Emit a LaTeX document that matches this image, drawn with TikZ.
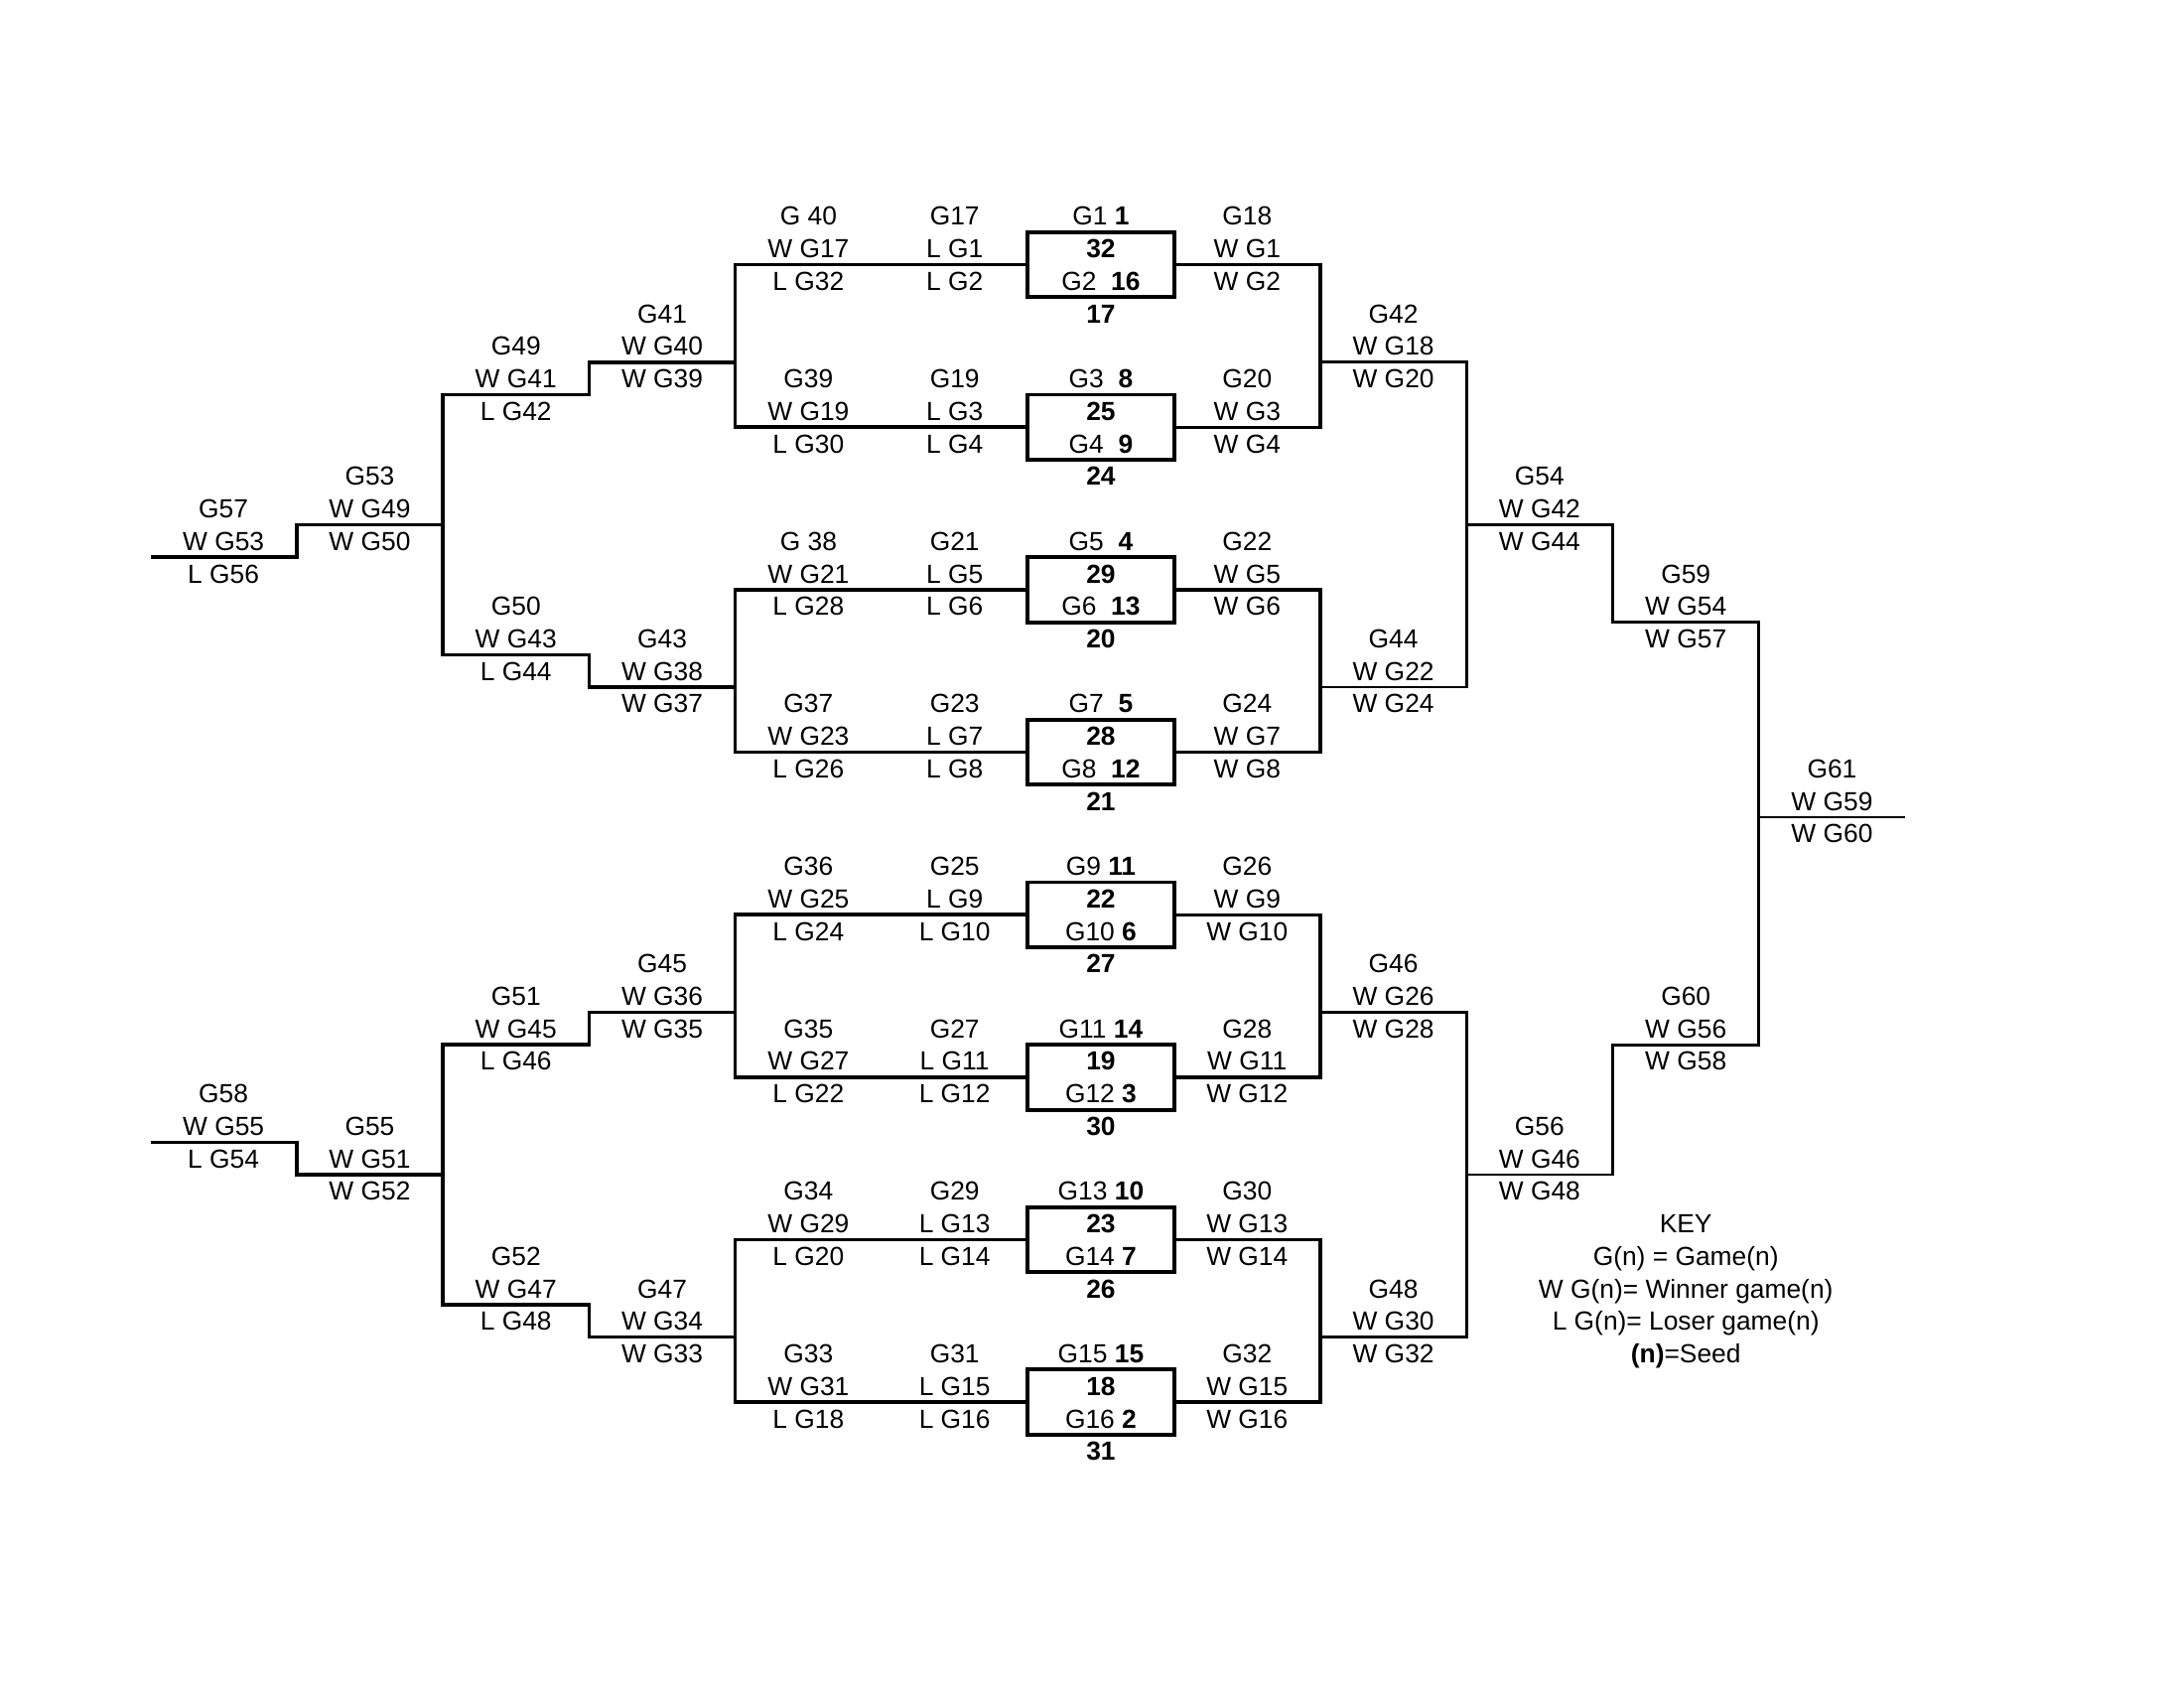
\documentclass[tikz,border=0pt]{standalone}
\usepackage{fontspec}
\setmainfont{Liberation Sans}
\tikzset{
 lbl/.style={font=\fontsize{7.5}{9}\selectfont, inner sep=0pt, anchor=base},
 boxst/.style={draw, line width=1.1pt, minimum width=1.473cm, minimum height=0.6546cm, inner sep=0pt, outer sep=0pt},
 lft/.style={line width=1.0pt},
 rgtone/.style={line width=0.95pt},
 rgt/.style={line width=0.8pt},
 fin/.style={line width=0.5pt},
}
% game labels: name, x, line y, title, upper, lower
\newcommand\gmlab[6]{%
 \node[lbl] (#1t) at (#2,#3-1.5+0.29) {#4};
 \node[lbl] (#1a) at (#2,#3-0.5+0.29) {#5};
 \node[lbl] (#1b) at (#2,#3+0.5+0.29) {#6};}
% first-round box: n, line y, top, inside1, inside2, below
\newcommand\bxg[6]{%
 \node[boxst] (box#1) at (6.5,#2) {};
 \node[lbl] (box#1t) at (6.5,#2-1.5+0.29) {#3};
 \node[lbl] (box#1a) at (6.5,#2-0.5+0.29) {\textbf{#4}};
 \node[lbl] (box#1b) at (6.5,#2+0.5+0.29) {#5};
 \node[lbl] (box#1c) at (6.5,#2+1.5+0.29) {\textbf{#6}};}
\begin{document}
\begin{tikzpicture}[x=1.473cm, y=-0.3273cm]
\useasboundingbox (-1.0285,-6.645) rectangle (13.907,45.29);

% boxes
\bxg{1}{1.5}{G1 \textbf{1}}{32}{G2~~\textbf{16}}{17}
\bxg{2}{6.5}{G3~~\textbf{8}}{25}{G4~~\textbf{9}}{24}
\bxg{3}{11.5}{G5~~\textbf{4}}{29}{G6~~\textbf{13}}{20}
\bxg{4}{16.5}{G7~~\textbf{5}}{28}{G8~~\textbf{12}}{21}
\bxg{5}{21.5}{G9 \textbf{11}}{22}{G10 \textbf{6}}{27}
\bxg{6}{26.5}{G11 \textbf{14}}{19}{G12 \textbf{3}}{30}
\bxg{7}{31.5}{G13 \textbf{10}}{23}{G14 \textbf{7}}{26}
\bxg{8}{36.5}{G15 \textbf{15}}{18}{G16 \textbf{2}}{31}

% round labels
\gmlab{g40}{4.5}{1.5}{G 40}{W G17}{L G32}
\gmlab{g17}{5.5}{1.5}{G17}{L G1}{L G2}
\gmlab{g18}{7.5}{1.5}{G18}{W G1}{W G2}
\gmlab{g39}{4.5}{6.5}{G39}{W G19}{L G30}
\gmlab{g19}{5.5}{6.5}{G19}{L G3}{L G4}
\gmlab{g20}{7.5}{6.5}{G20}{W G3}{W G4}
\gmlab{g38}{4.5}{11.5}{G 38}{W G21}{L G28}
\gmlab{g21}{5.5}{11.5}{G21}{L G5}{L G6}
\gmlab{g22}{7.5}{11.5}{G22}{W G5}{W G6}
\gmlab{g37}{4.5}{16.5}{G37}{W G23}{L G26}
\gmlab{g23}{5.5}{16.5}{G23}{L G7}{L G8}
\gmlab{g24}{7.5}{16.5}{G24}{W G7}{W G8}
\gmlab{g36}{4.5}{21.5}{G36}{W G25}{L G24}
\gmlab{g25}{5.5}{21.5}{G25}{L G9}{L G10}
\gmlab{g26}{7.5}{21.5}{G26}{W G9}{W G10}
\gmlab{g35}{4.5}{26.5}{G35}{W G27}{L G22}
\gmlab{g27}{5.5}{26.5}{G27}{L G11}{L G12}
\gmlab{g28}{7.5}{26.5}{G28}{W G11}{W G12}
\gmlab{g34}{4.5}{31.5}{G34}{W G29}{L G20}
\gmlab{g29}{5.5}{31.5}{G29}{L G13}{L G14}
\gmlab{g30}{7.5}{31.5}{G30}{W G13}{W G14}
\gmlab{g33}{4.5}{36.5}{G33}{W G31}{L G18}
\gmlab{g31}{5.5}{36.5}{G31}{L G15}{L G16}
\gmlab{g32}{7.5}{36.5}{G32}{W G15}{W G16}

\gmlab{g41}{3.5}{4.5}{G41}{W G40}{W G39}
\gmlab{g43}{3.5}{14.5}{G43}{W G38}{W G37}
\gmlab{g45}{3.5}{24.5}{G45}{W G36}{W G35}
\gmlab{g47}{3.5}{34.5}{G47}{W G34}{W G33}
\gmlab{g49}{2.5}{5.5}{G49}{W G41}{L G42}
\gmlab{g50}{2.5}{13.5}{G50}{W G43}{L G44}
\gmlab{g51}{2.5}{25.5}{G51}{W G45}{L G46}
\gmlab{g52}{2.5}{33.5}{G52}{W G47}{L G48}
\gmlab{g53}{1.5}{9.5}{G53}{W G49}{W G50}
\gmlab{g55}{1.5}{29.5}{G55}{W G51}{W G52}
\gmlab{g57}{0.5}{10.5}{G57}{W G53}{L G56}
\gmlab{g58}{0.5}{28.5}{G58}{W G55}{L G54}

\gmlab{g42}{8.5}{4.5}{G42}{W G18}{W G20}
\gmlab{g44}{8.5}{14.5}{G44}{W G22}{W G24}
\gmlab{g46}{8.5}{24.5}{G46}{W G26}{W G28}
\gmlab{g48}{8.5}{34.5}{G48}{W G30}{W G32}
\gmlab{g54}{9.5}{9.5}{G54}{W G42}{W G44}
\gmlab{g56}{9.5}{29.5}{G56}{W G46}{W G48}
\gmlab{g59}{10.5}{12.5}{G59}{W G54}{W G57}
\gmlab{g60}{10.5}{25.5}{G60}{W G56}{W G58}
\gmlab{g61}{11.5}{18.5}{G61}{W G59}{W G60}

% key
\node[lbl] (key0) at (10.5,31.29) {KEY};
\node[lbl] (key1) at (10.5,32.29) {G(n) = Game(n)};
\node[lbl] (key2) at (10.5,33.29) {W G(n)= Winner game(n)};
\node[lbl] (key3) at (10.5,34.29) {L G(n)= Loser game(n)};
\node[lbl] (key4) at (10.5,35.29) {\textbf{(n)}=Seed};

% junction coordinates, left
\coordinate (A1) at (4,4.5);  \coordinate (A2) at (4,14.5);
\coordinate (A3) at (4,24.5); \coordinate (A4) at (4,34.5);
\coordinate (B1) at (3,4.5);  \coordinate (B2) at (3,14.5);
\coordinate (B3) at (3,24.5); \coordinate (B4) at (3,34.5);
\coordinate (C1) at (2,5.5);  \coordinate (C2) at (2,13.5);
\coordinate (C3) at (2,25.5); \coordinate (C4) at (2,33.5);
\coordinate (D1) at (2,9.5);  \coordinate (D2) at (2,29.5);
\coordinate (E1) at (1,9.5);  \coordinate (E2) at (1,29.5);
\coordinate (F1) at (0,10.5); \coordinate (F2) at (0,28.5);
% right
\coordinate (R1) at (8,4.5);  \coordinate (R2) at (8,14.5);
\coordinate (R3) at (8,24.5); \coordinate (R4) at (8,34.5);
\coordinate (S1) at (9,4.5);  \coordinate (S2) at (9,14.5);
\coordinate (S3) at (9,24.5); \coordinate (S4) at (9,34.5);
\coordinate (T1) at (9,9.5);  \coordinate (T2) at (9,29.5);
\coordinate (U1) at (10,9.5); \coordinate (U2) at (10,29.5);
\coordinate (W1) at (11,12.5); \coordinate (W2) at (11,25.5);
\coordinate (X1) at (11,18.5); \coordinate (Y1) at (12,18.5);

% left bracket
\draw[lft] (box1.west) -| (A1) |- (box2.west);
\draw[lft] (box3.west) -| (A2) |- (box4.west);
\draw[lft] (box5.west) -| (A3) |- (box6.west);
\draw[lft] (box7.west) -| (A4) |- (box8.west);
\draw[lft] (A1) -- (B1) |- (C1) -- (C2) -| (B2) -- (A2);
\draw[lft] (A3) -- (B3) |- (C3) -- (C4) -| (B4) -- (A4);
\draw[lft] (D1) -- (E1) |- (F1);
\draw[lft] (D2) -- (E2) |- (F2);

% right bracket
\draw[rgtone] (box1.east) -| (R1) |- (box2.east);
\draw[rgtone] (box3.east) -| (R2) |- (box4.east);
\draw[rgtone] (box5.east) -| (R3) |- (box6.east);
\draw[rgtone] (box7.east) -| (R4) |- (box8.east);
\draw[rgt] (R1) -- (S1) -- (S2) -- (R2);
\draw[rgt] (R3) -- (S3) -- (S4) -- (R4);
\draw[rgt] (T1) -- (U1) |- (W1) -- (W2) -| (U2) -- (T2);
\draw[fin] (X1) -- (Y1);
\end{tikzpicture}
\end{document}
